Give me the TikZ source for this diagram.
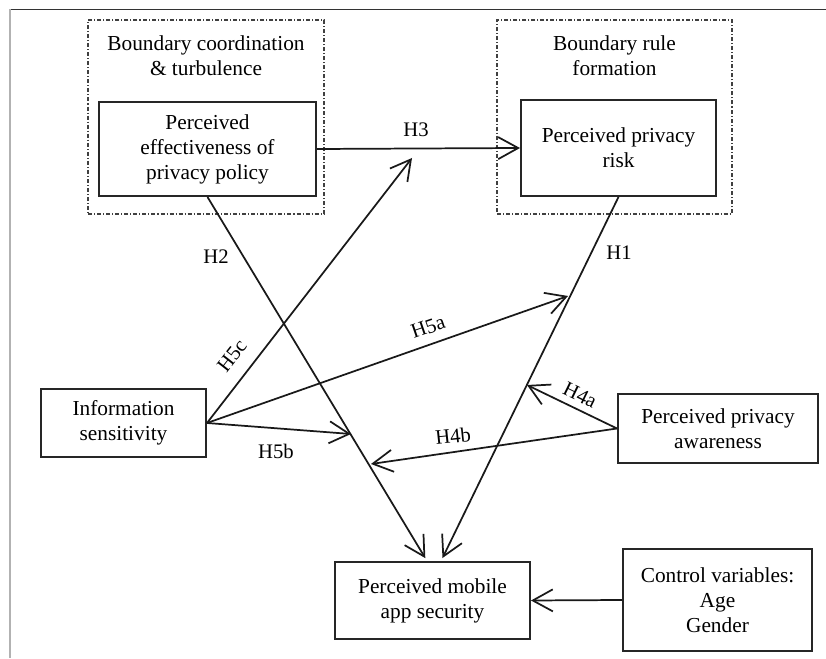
\documentclass[tikz,border=0pt]{standalone}
\usepackage{fontspec}
\setmainfont{Liberation Serif}
\usetikzlibrary{arrows.meta,calc}
\begin{document}
\begin{tikzpicture}[x=0.75pt,y=-0.75pt,
  every node/.style={font=\fontsize{16}{18.75}\selectfont, align=center, inner sep=0pt},
  varbox/.style={draw=black!85, line width=1.5pt, fill=none},
  groupbox/.style={draw=black!75, line width=0.8pt, dash pattern=on 3pt off 1.5pt on 0.8pt off 1.5pt},
  arr/.style={draw=black!90, line width=1.3pt, -{Straight Barb[length=15pt,width=16.5pt,line width=1.3pt]}},
  hlabel/.style={font=\fontsize{15.5}{18}\selectfont}
]
\useasboundingbox (0,0) rectangle (826,659);
% frame lines
\draw[black!80, line width=1.1pt] (10,9.5) -- (826,9.5);
\draw[black!30, line width=0.8pt] (10,9.5) -- (10,658);

% group boxes
\node[groupbox, minimum width=177pt, minimum height=145.5pt] (grp1) at (206,117) {};
\node[groupbox, minimum width=176.25pt, minimum height=145.5pt] (grp2) at (614.5,117) {};
\node (g1t) at (206,56) {Boundary coordination\\ \& turbulence};
\node (g2t) at (614.5,56) {Boundary rule\\ formation};

% variable boxes
\node[varbox, minimum width=162.75pt, minimum height=70.5pt] (peff) at (207.5,149) {Perceived\\ effectiveness of\\ privacy policy};
\node[varbox, minimum width=146.25pt, minimum height=72pt] (ppr) at (618.5,148) {Perceived privacy\\ risk};
\node[varbox, minimum width=123.75pt, minimum height=51pt] (info) at (123.5,423) {Information\\ sensitivity};
\node[varbox, minimum width=150pt, minimum height=51.75pt] (ppa) at (718,428.5) {Perceived privacy\\ awareness};
\node[varbox, minimum width=146.25pt, minimum height=57.75pt] (pmas) at (432.5,600.5) {Perceived mobile\\ app security};
\node[varbox, minimum width=141.75pt, minimum height=76.5pt] (ctrl) at (717.5,600) {Control variables:\\ Age\\ Gender};

% free ends
\coordinate (c5c) at (412,158);
\coordinate (c5a) at (568,296);
\coordinate (c5b) at (351,434);
\coordinate (c4a) at (527,385);
\coordinate (c4b) at (371,464);

% connectors
\draw[arr] (peff.east) -- (ppr.west);
\draw[arr, shorten >=2.5pt] (peff.south) -- ([xshift=-4.1pt]pmas.north);
\draw[arr, shorten >=2.5pt] (ppr.south) -- ([xshift=6.4pt]pmas.north);
\draw[arr] (info.east) -- (c5c);
\draw[arr] (info.east) -- (c5a);
\draw[arr] (info.east) -- (c5b);
\draw[arr] (ppa.west) -- (c4a);
\draw[arr] (ppa.west) -- (c4b);
\draw[arr] (ctrl.west) -- (pmas.east);

% labels
\node[hlabel] (lh3) at (416,130) {H3};
\node[hlabel] (lh2) at (216,257) {H2};
\node[hlabel] (lh1) at (619,253) {H1};
\node[hlabel, rotate=52] (lh5c) at (232,356) {H5c};
\node[hlabel, rotate=19] (lh5a) at (428,327) {H5a};
\node[hlabel] (lh5b) at (276,451) {H5b};
\node[hlabel, rotate=-26] (lh4a) at (580,395) {H4a};
\node[hlabel, rotate=6] (lh4b) at (453,436) {H4b};
\end{tikzpicture}
\end{document}
